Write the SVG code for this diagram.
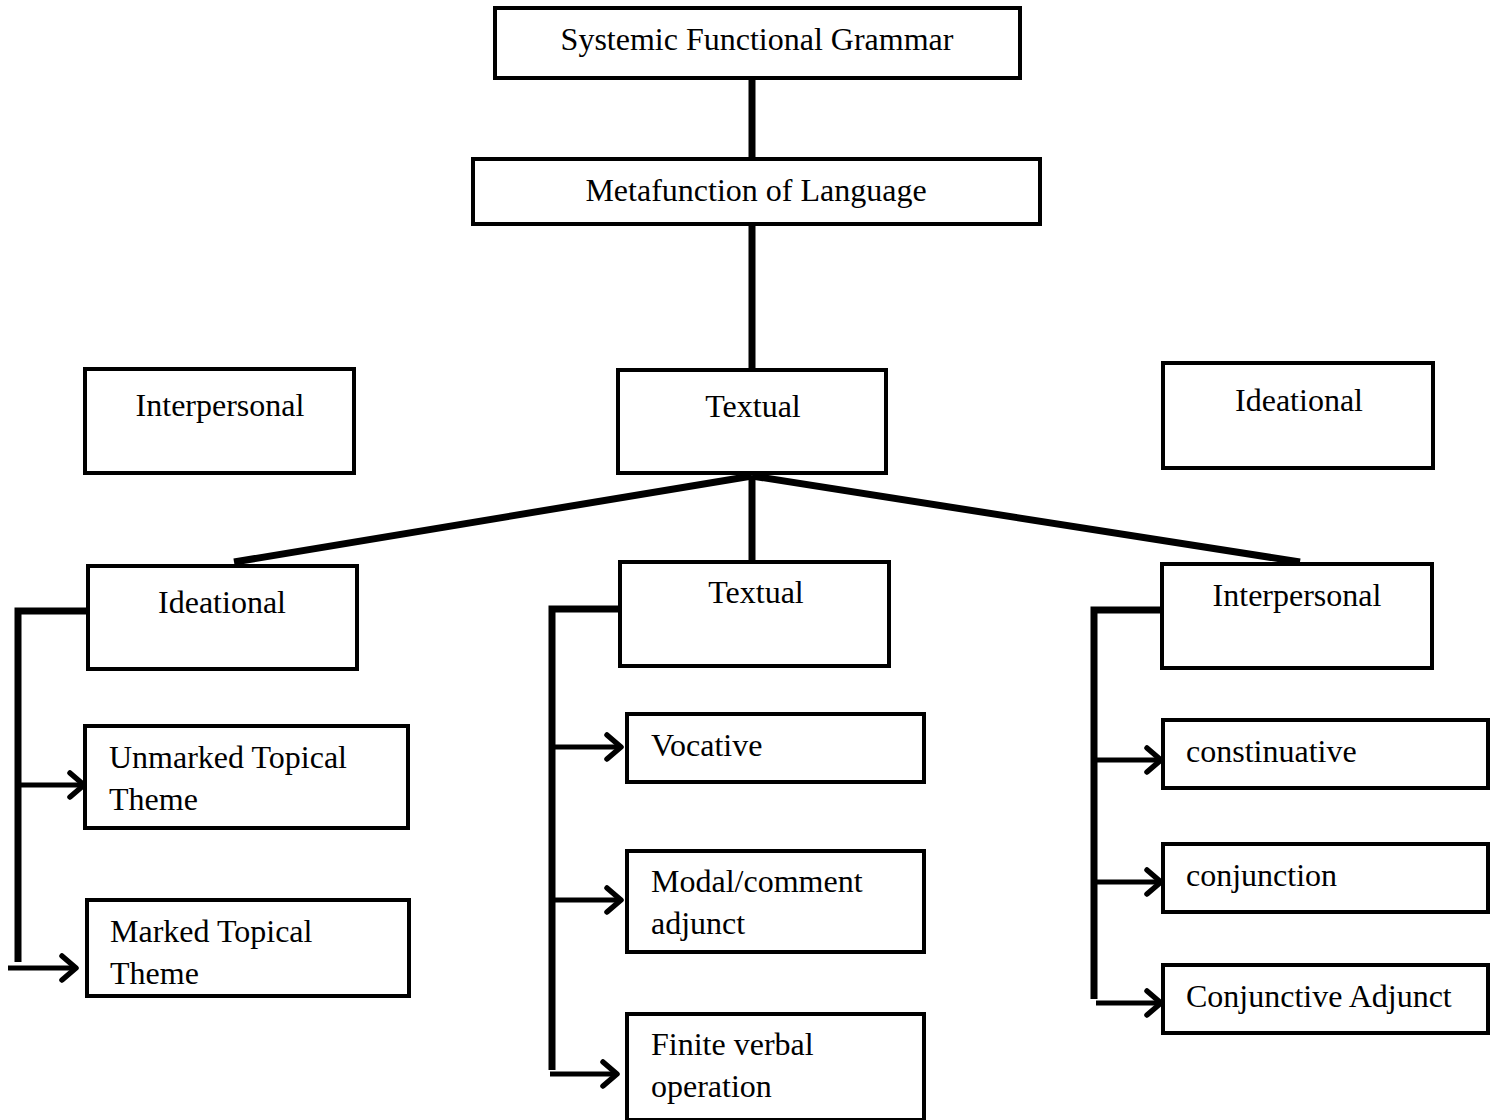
<svg xmlns="http://www.w3.org/2000/svg" width="1501" height="1120" viewBox="0 0 1501 1120">
<style>
.box{fill:#fff;stroke:#000;stroke-width:4}
.t{font-family:"Liberation Serif","Times New Roman",serif;font-size:32px;fill:#000}
.c{text-anchor:middle}
.thick{stroke:#000;stroke-width:7;fill:none}
.br{stroke:#000;stroke-width:7;fill:none}
.ar{stroke:#000;stroke-width:5;fill:none;marker-end:url(#ah)}
</style>
<defs>
<marker id="ah" markerUnits="userSpaceOnUse" markerWidth="22" markerHeight="30" refX="18" refY="15" orient="auto">
<polyline points="4,3 18,15 4,27" fill="none" stroke="#000" stroke-width="5.5" stroke-linecap="round" stroke-linejoin="round"/>
</marker>
</defs>
<rect width="1501" height="1120" fill="#fff"/>
<g id="connectors">
<line class="thick" x1="752" y1="78" x2="752" y2="159"/>
<line class="thick" x1="752" y1="224" x2="752" y2="370"/>
<line class="thick" x1="752" y1="476" x2="234" y2="562"/>
<line class="br" x1="752" y1="476" x2="752" y2="562"/>
<line class="thick" x1="752" y1="476" x2="1300" y2="562"/>
<polyline class="br" points="88,611 18,611 18,962"/>
<line class="ar" x1="20" y1="785" x2="84" y2="785"/>
<line class="ar" x1="8" y1="968" x2="76" y2="968"/>
<polyline class="br" points="620,609 552,609 552,1070"/>
<line class="ar" x1="554" y1="747" x2="621" y2="747"/>
<line class="ar" x1="554" y1="900" x2="621" y2="900"/>
<line class="ar" x1="550" y1="1074" x2="617" y2="1074"/>
<polyline class="br" points="1162,610 1094,610 1094,999"/>
<line class="ar" x1="1096" y1="760" x2="1161" y2="760"/>
<line class="ar" x1="1096" y1="882" x2="1161" y2="882"/>
<line class="ar" x1="1096" y1="1003" x2="1161" y2="1003"/>
</g>
<g id="sfg"><rect class="box" x="495" y="8" width="525" height="70"/><text class="t c" x="757" y="50">Systemic Functional Grammar</text></g>
<g id="meta"><rect class="box" x="473" y="159" width="567" height="65"/><text class="t c" x="756" y="201">Metafunction of Language</text></g>
<g id="interpersonal-top"><rect class="box" x="85" y="369" width="269" height="104"/><text class="t c" x="220" y="416">Interpersonal</text></g>
<g id="textual-top"><rect class="box" x="618" y="370" width="268" height="103"/><text class="t c" x="753" y="417">Textual</text></g>
<g id="ideational-top"><rect class="box" x="1163" y="363" width="270" height="105"/><text class="t c" x="1299" y="411">Ideational</text></g>
<g id="ideational"><rect class="box" x="88" y="566" width="269" height="103"/><text class="t c" x="222" y="613">Ideational</text></g>
<g id="textual"><rect class="box" x="620" y="562" width="269" height="104"/><text class="t c" x="756" y="603">Textual</text></g>
<g id="interpersonal"><rect class="box" x="1162" y="564" width="270" height="104"/><text class="t c" x="1297" y="606">Interpersonal</text></g>
<g id="unmarked"><rect class="box" x="85" y="726" width="323" height="102"/><text class="t" x="109" y="768">Unmarked Topical</text><text class="t" x="109" y="810">Theme</text></g>
<g id="marked"><rect class="box" x="87" y="900" width="322" height="96"/><text class="t" x="110" y="942">Marked Topical</text><text class="t" x="110" y="984">Theme</text></g>
<g id="vocative"><rect class="box" x="627" y="714" width="297" height="68"/><text class="t" x="651" y="756">Vocative</text></g>
<g id="modal"><rect class="box" x="627" y="851" width="297" height="101"/><text class="t" x="651" y="892">Modal/comment</text><text class="t" x="651" y="934">adjunct</text></g>
<g id="finite"><rect class="box" x="627" y="1014" width="297" height="106"/><text class="t" x="651" y="1055">Finite verbal</text><text class="t" x="651" y="1097">operation</text></g>
<g id="constinuative"><rect class="box" x="1163" y="720" width="325" height="68"/><text class="t" x="1186" y="762">constinuative</text></g>
<g id="conjunction"><rect class="box" x="1163" y="844" width="325" height="68"/><text class="t" x="1186" y="886">conjunction</text></g>
<g id="conjadjunct"><rect class="box" x="1163" y="965" width="325" height="68"/><text class="t" x="1186" y="1007">Conjunctive Adjunct</text></g>
</svg>
